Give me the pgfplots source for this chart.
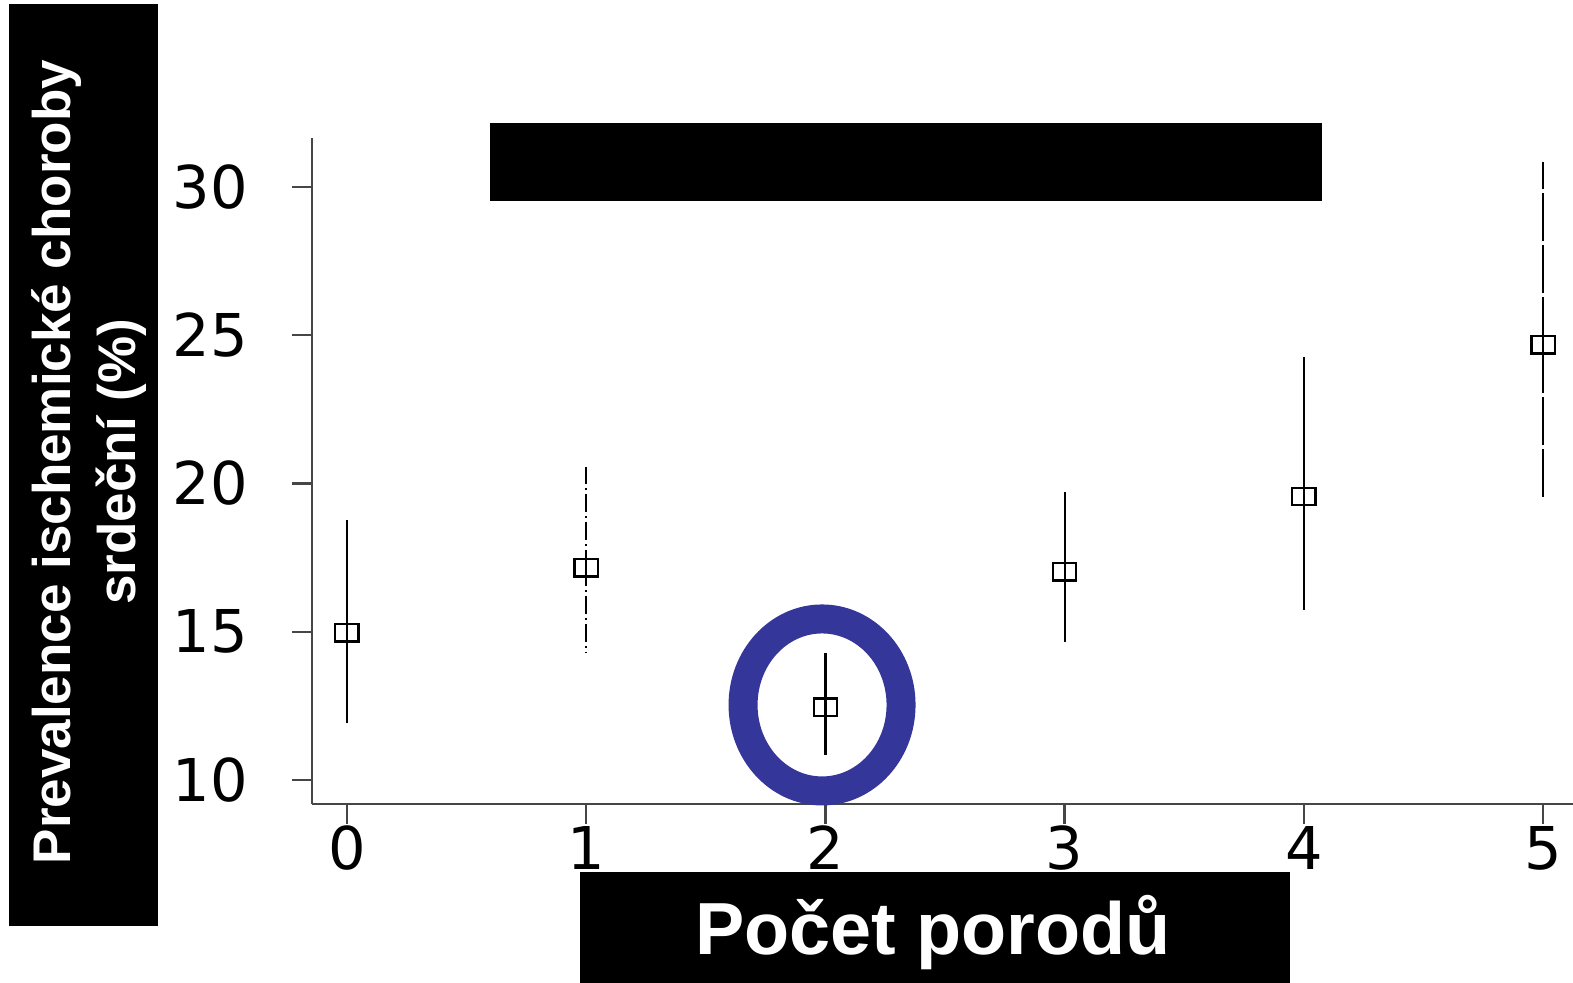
\documentclass[border=0pt]{standalone}
\usepackage{fontspec}
\usepackage{pgfplots}
\pgfplotsset{compat=1.18}
\setmainfont{Liberation Sans}
\newfontfamily\ticksfont{DejaVu Sans}
\definecolor{ringblue}{RGB}{53,54,154}
\definecolor{axisgray}{RGB}{70,70,70}

% prevalence (%) with lower/upper limits by number of births
\pgfplotstableread{
x   y      ep    em
0   14.96  3.81  3.04
2   12.46  1.82  1.62
3   17.02  2.69  2.37
4   19.55  4.72  3.82
}\solidbars
\pgfplotstableread{
x   y      ep    em
1   17.15  3.41  2.87
}\dashbarone
\pgfplotstableread{
x   y      ep    em
5   24.67  6.17  5.16
}\dashbarfive

\begin{document}
\begin{tikzpicture}
\path[use as bounding box] (0pt,0pt) rectangle (786.5pt,491.5pt);
\clip (0pt,0pt) rectangle (786.5pt,491.5pt);
\begin{axis}[
  at={(156pt,89.5pt)}, anchor=south west,
  scale only axis, width=630.5pt, height=333pt,
  xmin=-0.146, xmax=5.125, ymin=9.19, ymax=31.65,
  axis x line=bottom, axis y line=left,
  axis line style={-, line width=1.3pt, color=axisgray},
  xtick={0,1,2,3,4,5}, ytick={10,15,20,25,30},
  tick align=outside, major tick length=10pt,
  tick style={line width=1.2pt, color=axisgray},
  /pgf/number format/assume math mode=true,
  ticklabel style={font=\ticksfont\fontsize{29.5}{30}\selectfont},
  yticklabel style={xshift=-18.5pt},
  xticklabel style={yshift=2.5pt},
  clip=false,
  error bars/y dir=both, error bars/y explicit,
  error bars/error mark=none,
]
\addplot[only marks, mark=square, mark size=4.3pt, mark options={xscale=1.35, line width=1.1pt, solid},
  error bars/error bar style={line width=1.1pt, black}]
  table[x=x, y=y, y error plus=ep, y error minus=em] {\solidbars};
\addplot[only marks, mark=square, mark size=4.3pt, mark options={xscale=1.35, line width=1.1pt, solid},
  error bars/error bar style={line width=1.1pt, black, dash pattern=on 9pt off 2pt on 1pt off 2pt}]
  table[x=x, y=y, y error plus=ep, y error minus=em] {\dashbarone};
\addplot[only marks, mark=square, mark size=4.3pt, mark options={xscale=1.35, line width=1.1pt, solid},
  error bars/error bar style={line width=1.1pt, black, dash pattern=on 24pt off 2pt}]
  table[x=x, y=y, y error plus=ep, y error minus=em] {\dashbarfive};
\coordinate (ring) at (axis cs:1.986,12.53);
\end{axis}

% highlight ring around the two-birth group
\draw[ringblue, line width=14.5pt] (ring) ellipse [x radius=39.5pt, y radius=43pt];

% label panels
\begin{scope}[x=0.5pt, y=0.5pt]
\fill[black] (490,782) rectangle (1322,860);
\fill[black] (9,57) rectangle (158,979);
\node[white, font=\bfseries\fontsize{26.5}{32.5}\selectfont, rotate=90, align=center, inner sep=0pt]
  at (89,521) {Prevalence ischemické choroby\\srdeční (\%)};
\fill[black] (580,0) rectangle (1290,111);
\node[white, font=\bfseries\fontsize{36.9}{40}\selectfont, anchor=base, inner sep=0pt]
  at (933,28) {Počet porodů};
\end{scope}
\end{tikzpicture}
\end{document}
